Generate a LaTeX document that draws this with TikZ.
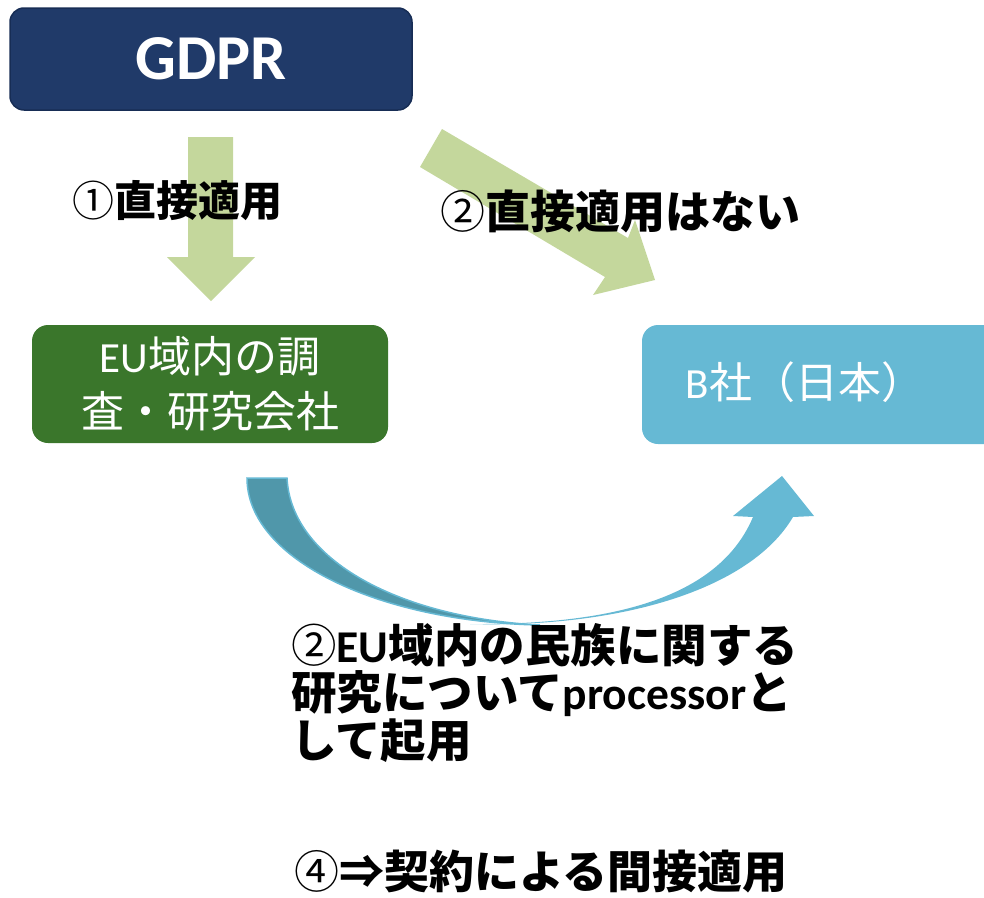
\documentclass[tikz,border=0pt]{standalone}
\usepackage{fontspec}
\setmainfont{Carlito}
\newfontfamily\cjk{Noto Sans CJK JP}
\definecolor{navy}{HTML}{203A69}
\definecolor{navyd}{HTML}{172D55}
\definecolor{eugreen}{HTML}{3A762B}
\definecolor{bblue}{HTML}{66B9D4}
\definecolor{darkteal}{HTML}{5097AA}
\definecolor{arrowgreen}{HTML}{C4D79C}
\newcommand{\circd}[1]{{\mdseries\cjk #1}}
\begin{document}
\begin{tikzpicture}[x=1pt,y=-1pt,
  box/.style={rounded corners=14pt, inner sep=0pt, text=white, align=center},
  lbl/.style={inner sep=0pt, text=black},
  greenarrow/.style={fill=arrowgreen, draw=none}]
\useasboundingbox (0,0) rectangle (984,897);
\clip (0,0) rectangle (984,897);

% boxes
\node[box, fill=navy, draw=navyd, line width=1.5pt, minimum width=402pt, minimum height=102pt,
      font=\bfseries\fontsize{64}{70}\selectfont] (gdpr) at (211,59) {GDPR};
\node[box, fill=eugreen, rounded corners=16pt, minimum width=356pt, minimum height=118pt,
      font=\fontsize{43}{55}\selectfont] (eu) at (210,384) {EU{\cjk 域内の調}\\{\cjk 査・研究会社}};
\node[box, fill=bblue, rounded corners=16pt, minimum width=370pt, minimum height=119pt] (bbox) at (827,384.5) {};
\node[inner sep=0pt, text=white, font=\fontsize{43}{50}\selectfont] (btext) at (805,382) {B{\cjk 社（日本）}};

% green block arrows
\fill[greenarrow] (188,137) -- (233,137) -- (233,257) -- (255,257) -- (211,301) -- (167,257) -- (188,257) -- cycle;
\fill[greenarrow] (442,129) -- (628,238) -- (635,220) -- (655,280) -- (593,295) -- (605,277) -- (420,167) -- cycle;

% curved arrow: light part
\fill[bblue] (470,624) .. controls (620,628) and (750,590) .. (793,517) -- (814,516) -- (782,476) -- (733,516) -- (753,517)
   .. controls (720,595) and (620,625) .. (470,624) -- cycle;
% curved arrow: dark part
\filldraw[fill=darkteal, draw=bblue, line width=1.5pt] (247,478) .. controls (247,560) and (380,622) .. (540,625)
   .. controls (400,618) and (291,560) .. (287,478) -- cycle;

% labels
\node[lbl, font=\bfseries\fontsize{42}{46}\selectfont] (l1) at (177,201) {\circd{①}{\cjk 直接適用}};
\node[lbl, font=\bfseries\fontsize{45}{50}\selectfont] (l2) at (620,211) {\circd{②}{\cjk 直接適用はない}};
\node[lbl, anchor=north west, align=left, font=\bfseries\fontsize{45.5}{47.5}\selectfont] (l3) at (291,623)
  {\circd{②}EU{\cjk 域内の民族に関する}\\{\cjk 研究について}processor{\cjk と}\\{\cjk して起用}};
\node[lbl, font=\bfseries\fontsize{45}{50}\selectfont] (l4) at (541,871) {\circd{④}{\cjk ⇒契約による間接適用}};
\end{tikzpicture}
\end{document}
